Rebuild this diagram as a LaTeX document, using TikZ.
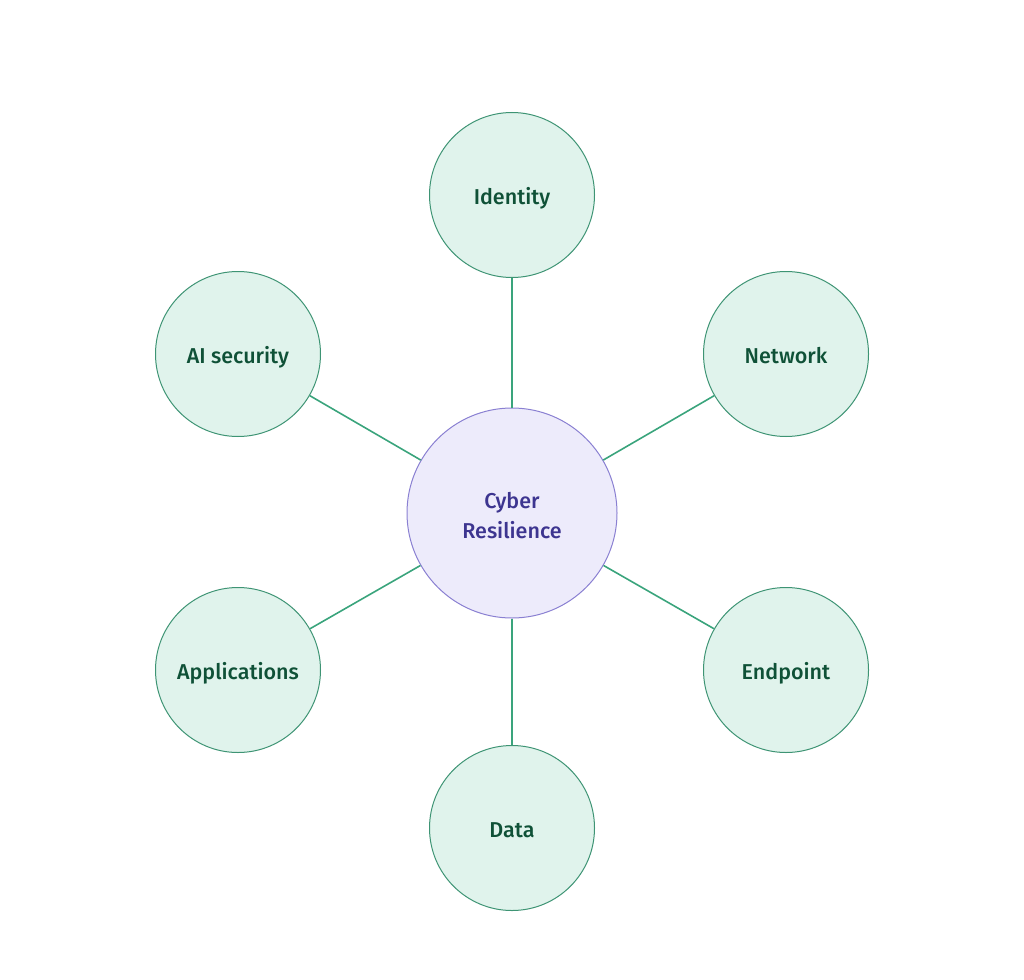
\documentclass[tikz,border=0pt]{standalone}
\usepackage{fontspec}
\setmainfont{Fira Sans}[UprightFont=* Medium]
\definecolor{ofill}{HTML}{E0F3EC}
\definecolor{ostroke}{HTML}{3E9474}
\definecolor{otext}{HTML}{0F5137}
\definecolor{cfill}{HTML}{EDEBFB}
\definecolor{cstroke}{HTML}{8A80D2}
\definecolor{ctext}{HTML}{3D3590}
\definecolor{link}{HTML}{3AA47C}
\tikzset{
  outer/.style={circle, draw=ostroke, fill=ofill, line width=1pt, minimum size=165pt, inner sep=0pt, text=otext, text height=18.5pt, text depth=0pt, font=\fontsize{21.5}{26}\selectfont},
  center/.style={circle, draw=cstroke, fill=cfill, line width=1pt, minimum size=210pt, inner sep=0pt},
  ctitle/.style={text=ctext, align=center, font=\fontsize{21.5}{30}\selectfont, yshift=-3pt},
  link/.style={draw=link, line width=1.6pt}
}
\begin{document}
\begin{tikzpicture}[x=1pt,y=-1pt]
\useasboundingbox (0,0) rectangle (1024,979);
\node[center, label={[ctitle]center:Cyber\\Resilience}] (c) at (512,513) {};
\node[outer] (id) at (512,195) {Identity};
\node[outer] (net) at (786,354) {Network};
\node[outer] (end) at (786,670) {Endpoint};
\node[outer] (data) at (512,828) {Data};
\node[outer] (app) at (238,670) {Applications};
\node[outer] (ai) at (238,354) {AI security};
\foreach \n in {id,net,end,data,app,ai} \draw[link] (c) -- (\n);
\end{tikzpicture}
\end{document}
